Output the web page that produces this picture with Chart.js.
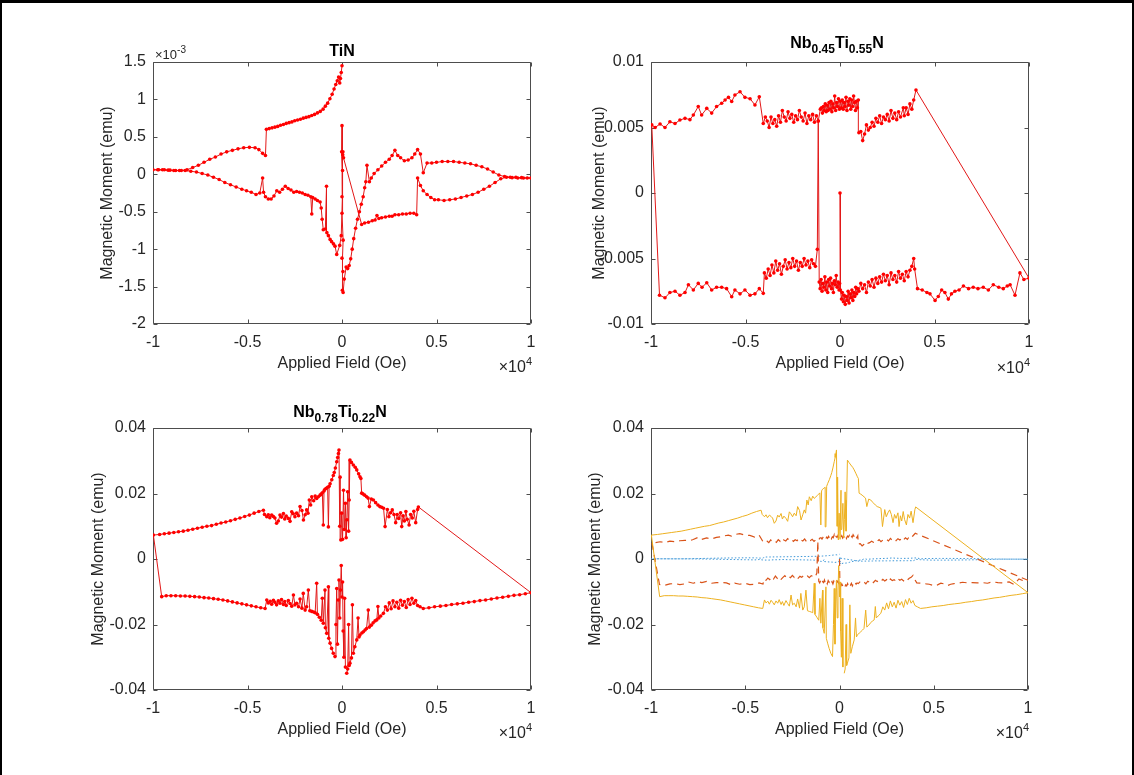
<!DOCTYPE html>
<html>
<head>
<meta charset="utf-8">
<script src="https://cdn.jsdelivr.net/npm/chart.js@4.4.0/dist/chart.umd.min.js"></script>
<style>
  body { margin: 0; background: #fff; }
  #page {
    position: relative; width: 1134px; height: 775px; overflow: hidden; background: #fff;
    font-family: "Liberation Sans", Arial, Helvetica, sans-serif; color: #262626;
  }
  #frame {
    position: absolute; left: 0; top: 0; width: 1134px; height: 775px; box-sizing: border-box;
    border-top: 3px solid #000; border-left: 2px solid #000; border-right: 2px solid #000;
  }
  canvas { position: absolute; }
  .ttl {
    position: absolute; transform: translateX(-50%); white-space: nowrap;
    font-weight: bold; font-size: 16px; line-height: 19px; color: #000;
  }
  .ttl .sb { font-size: 12px; position: relative; top: 5px; }
  .exp { position: absolute; font-size: 16px; line-height: 18px; color: #262626; white-space: nowrap; }
  .exp .sp { font-size: 11px; position: relative; top: -7px; }
  .exp.small { font-size: 13px; line-height: 15px; }
  .exp.small .sp { font-size: 10px; top: -6px; }
</style>
</head>
<body>
<div id="page">
  <div id="frame"></div>
  <canvas id="tin"></canvas>
  <canvas id="nb45"></canvas>
  <canvas id="nb78"></canvas>
  <canvas id="all"></canvas>

  <div class="ttl" style="left:342px;top:41px">TiN</div>
  <div class="ttl" style="left:837px;top:33px">Nb<span class="sb">0.45</span>Ti<span class="sb">0.55</span>N</div>
  <div class="ttl" style="left:340px;top:402px">Nb<span class="sb">0.78</span>Ti<span class="sb">0.22</span>N</div>

  <div class="exp small" style="left:155px;top:47px">×10<span class="sp">-3</span></div>
  <div class="exp" style="right:602px;top:358px">×10<span class="sp">4</span></div>
  <div class="exp" style="right:104px;top:359px">×10<span class="sp">4</span></div>
  <div class="exp" style="right:602px;top:724px">×10<span class="sp">4</span></div>
  <div class="exp" style="right:105px;top:724px">×10<span class="sp">4</span></div>
</div>

<script>
// fields in kOe (axis prints them in units of 10^4 Oe), moments in 10^-3 emu

const fieldTicks = [-10, -5, 0, 5, 10];
const tinTicks = [-2, -1.5, -1, -0.5, 0, 0.5, 1, 1.5];
const nb45Ticks = [-10, -5, 0, 5, 10];
const nb78Ticks = [-40, -20, 0, 20, 40];

// TiN sweep, in measurement order
const tinSweep = [
  [0.05, 0.30], [0.08, 0.22],
  // lower right branch
  [1.04, -0.67], [1.2, -0.65], [1.4, -0.64], [1.6, -0.62], [1.75, -0.61], [1.85, -0.55], [1.95, -0.59],
  [2.1, -0.58], [2.3, -0.57], [2.5, -0.56], [2.65, -0.56], [2.8, -0.54], [3.0, -0.54], [3.2, -0.53],
  [3.4, -0.53], [3.6, -0.52], [3.8, -0.52], [3.95, -0.54],
  [4.0, -0.05], [4.15, -0.15], [4.3, -0.22], [4.5, -0.27], [4.7, -0.31], [4.9, -0.34], [5.1, -0.34],
  [5.4, -0.35], [5.7, -0.34], [6.0, -0.33], [6.3, -0.31], [6.6, -0.29], [6.9, -0.27], [7.2, -0.24],
  [7.5, -0.2], [7.8, -0.16], [8.1, -0.11], [8.4, -0.06], [8.7, -0.04], [9.0, -0.045], [9.3, -0.05],
  [9.6, -0.05], [10.0, -0.05],
  // upper right branch
  [9.8, -0.05], [9.5, -0.045], [9.2, -0.04], [8.9, -0.04], [8.6, -0.03], [8.3, -0.01], [8.0, 0.03],
  [7.7, 0.07], [7.4, 0.1], [7.1, 0.12], [6.8, 0.14], [6.5, 0.15], [6.2, 0.16], [5.9, 0.17], [5.6, 0.17],
  [5.3, 0.17], [5.0, 0.16], [4.75, 0.15], [4.5, 0.15], [4.3, 0.02], [4.15, 0.27], [4.0, 0.33],
  [3.85, 0.27], [3.7, 0.22], [3.5, 0.19], [3.3, 0.18], [3.1, 0.22], [2.95, 0.25], [2.8, 0.32],
  [2.65, 0.25], [2.5, 0.2], [2.3, 0.16], [2.1, 0.11], [1.9, 0.06], [1.7, 0.01], [1.55, -0.05],
  [1.45, -0.1], [1.32, 0.12], [1.26, -0.1],
  // steep part down to the minimum
  [1.2, -0.18], [1.12, -0.3], [1.02, -0.4], [0.92, -0.5], [0.82, -0.6], [0.72, -0.72], [0.62, -0.86],
  [0.54, -1.0], [0.46, -1.13], [0.38, -1.22], [0.3, -1.26], [0.22, -1.24],
  // readings around zero field
  [0.12, -1.4], [0.06, -1.58], [0.02, -1.55], [0.05, -1.3], [0.0, -1.12], [0.06, -0.88], [0.0, -0.52],
  [0.03, 0.05], [-0.02, 0.3], [0.0, 0.65], [0.04, 0.26], [0.0, -0.3], [-0.04, -0.82], [-0.12, -0.95],
  // lower left branch
  [-0.28, -1.07], [-0.37, -0.96], [-0.45, -0.93], [-0.55, -0.9], [-0.63, -0.87], [-0.72, -0.82],
  [-0.8, -0.78], [-0.82, -0.16], [-0.88, -0.73], [-0.99, -0.74], [-1.05, -0.6], [-1.1, -0.45],
  [-1.16, -0.37], [-1.3, -0.35], [-1.42, -0.33], [-1.55, -0.31], [-1.6, -0.53], [-1.65, -0.3],
  [-1.8, -0.28], [-1.95, -0.27], [-2.1, -0.25], [-2.25, -0.24], [-2.4, -0.23], [-2.55, -0.24],
  [-2.7, -0.21], [-2.85, -0.19], [-3.0, -0.16], [-3.15, -0.2], [-3.3, -0.24], [-3.45, -0.22],
  [-3.6, -0.29], [-3.75, -0.33], [-3.9, -0.33], [-4.05, -0.3], [-4.15, -0.24], [-4.2, -0.05],
  [-4.35, -0.25], [-4.55, -0.27], [-4.8, -0.24], [-5.05, -0.22], [-5.3, -0.2], [-5.6, -0.17],
  [-5.9, -0.14], [-6.2, -0.11], [-6.5, -0.07], [-6.8, -0.04], [-7.1, -0.01], [-7.4, 0.01],
  [-7.7, 0.03], [-8.0, 0.04], [-8.3, 0.05], [-8.6, 0.05], [-8.9, 0.05], [-9.2, 0.055], [-9.5, 0.06],
  [-9.75, 0.06], [-10.0, 0.06],
  // upper left branch
  [-9.7, 0.06], [-9.4, 0.06], [-9.1, 0.055], [-8.8, 0.05], [-8.5, 0.05], [-8.2, 0.06], [-7.9, 0.09],
  [-7.6, 0.12], [-7.3, 0.16], [-7.0, 0.2], [-6.7, 0.23], [-6.4, 0.27], [-6.1, 0.3], [-5.8, 0.32],
  [-5.5, 0.34], [-5.2, 0.355], [-4.9, 0.36], [-4.6, 0.355], [-4.4, 0.33], [-4.2, 0.28], [-4.05, 0.25],
  [-4.0, 0.6], [-3.85, 0.61], [-3.7, 0.62], [-3.55, 0.63], [-3.4, 0.64], [-3.25, 0.655], [-3.1, 0.665],
  [-2.95, 0.68], [-2.8, 0.69], [-2.65, 0.7], [-2.5, 0.715], [-2.35, 0.725], [-2.2, 0.735], [-2.05, 0.75],
  [-1.9, 0.76], [-1.75, 0.77], [-1.6, 0.785], [-1.45, 0.8], [-1.3, 0.82], [-1.15, 0.84], [-1.0, 0.87],
  [-0.88, 0.91], [-0.76, 0.95], [-0.64, 1.01], [-0.52, 1.07], [-0.42, 1.14], [-0.33, 1.2],
  [-0.25, 1.25], [-0.18, 1.3], [-0.12, 1.22], [-0.08, 1.28], [-0.04, 1.36], [0.0, 1.45]
];

// Nb0.45Ti0.55N sweep
const nb45Sweep = [
  [0.0, 0.0],
  [0.02, -7.4], [0.08, -8.1], [0.12, -7.6], [0.18, -8.3], [0.22, -7.8], [0.28, -8.5], [0.33, -7.9],
  [0.38, -8.2], [0.43, -7.5], [0.48, -8.4], [0.53, -7.7], [0.58, -8.0], [0.63, -7.4], [0.68, -8.2],
  [0.73, -7.6], [0.78, -7.9], [0.83, -7.2], [0.88, -7.7], [0.93, -7.3],
  [1.0, -7.5], [1.1, -6.9], [1.2, -7.3], [1.3, -7.0], [1.4, -7.6], [1.5, -6.8], [1.6, -7.1], [1.7, -6.6],
  [1.8, -7.2], [1.9, -6.5], [2.0, -6.9], [2.1, -6.4], [2.2, -6.8], [2.3, -6.2], [2.4, -6.7], [2.5, -6.3],
  [2.6, -7.0], [2.7, -6.1], [2.8, -6.6], [2.9, -6.3], [3.0, -6.8], [3.1, -6.0], [3.2, -6.5], [3.3, -6.2],
  [3.4, -6.7], [3.5, -6.0], [3.6, -6.4], [3.7, -5.9], [3.8, -5.6], [3.9, -5.0], [3.95, -5.8],
  [4.1, -7.3], [4.35, -7.4], [4.6, -7.6], [4.76, -7.7], [5.03, -8.2], [5.2, -7.9], [5.38, -7.4],
  [5.55, -7.6], [5.73, -8.1], [5.9, -7.7], [6.08, -7.5], [6.3, -7.4], [6.53, -7.1], [6.8, -7.3],
  [7.05, -7.2], [7.3, -7.3], [7.58, -7.2], [7.85, -7.4], [8.11, -7.0], [8.4, -7.2], [8.64, -7.3],
  [8.85, -7.1], [9.0, -7.0], [9.26, -7.8], [9.52, -6.1], [9.73, -6.6], [10.0, -6.5],
  // back at 4 kOe on the upper branch
  [4.02, 7.86],
  [3.9, 7.1], [3.8, 6.4], [3.7, 6.8], [3.6, 6.0], [3.5, 6.5], [3.4, 5.9], [3.35, 6.5], [3.2, 5.8],
  [3.1, 6.2], [3.0, 5.6], [2.9, 6.1], [2.8, 5.7], [2.7, 6.3], [2.6, 5.5], [2.5, 6.0], [2.4, 5.6],
  [2.3, 5.8], [2.2, 5.3], [2.1, 5.9], [2.0, 5.4], [1.9, 5.7], [1.8, 5.1], [1.7, 5.4], [1.6, 5.0],
  [1.5, 4.8], [1.4, 5.2], [1.3, 4.5], [1.2, 4.0], [1.1, 4.7], [1.0, 4.6],
  [0.97, 7.1], [0.92, 6.5], [0.87, 7.0], [0.82, 6.3], [0.77, 6.9], [0.72, 7.4], [0.67, 6.6], [0.62, 7.1],
  [0.57, 6.4], [0.52, 7.2], [0.47, 6.7], [0.42, 7.0], [0.37, 6.3], [0.32, 7.3], [0.27, 6.6], [0.22, 6.9],
  [0.17, 6.4], [0.12, 7.1], [0.07, 6.5], [0.02, 7.0], [-0.03, 6.4], [-0.08, 7.2], [-0.13, 6.6],
  [-0.18, 6.9], [-0.23, 6.3], [-0.28, 7.4], [-0.33, 6.5], [-0.38, 6.8], [-0.43, 6.2], [-0.48, 7.0],
  [-0.53, 6.4], [-0.58, 6.9], [-0.63, 6.3], [-0.68, 6.7], [-0.73, 6.2], [-0.78, 6.8], [-0.83, 6.3],
  [-0.88, 6.6], [-0.93, 6.1], [-0.98, 6.5], [-1.04, 6.4],
  [-1.15, 5.5], [-1.25, 5.9], [-1.35, 5.4], [-1.45, 6.0], [-1.55, 5.6], [-1.65, 5.9], [-1.75, 5.3],
  [-1.85, 6.1], [-1.95, 5.5], [-2.05, 5.8], [-2.15, 6.3], [-2.25, 5.6], [-2.35, 5.9], [-2.45, 5.4],
  [-2.55, 6.0], [-2.65, 5.7], [-2.75, 6.2], [-2.85, 5.5], [-2.95, 5.8], [-3.05, 6.3], [-3.15, 5.4],
  [-3.25, 5.9], [-3.35, 5.1], [-3.45, 5.6], [-3.55, 5.3], [-3.65, 5.8], [-3.75, 5.0], [-3.85, 5.5],
  [-3.95, 5.8], [-4.06, 5.3],
  [-4.27, 7.35], [-4.5, 6.72], [-4.76, 7.2], [-5.03, 7.3], [-5.29, 7.73], [-5.56, 7.48], [-5.73, 6.98],
  [-5.9, 7.3], [-6.08, 7.1], [-6.26, 6.85], [-6.53, 6.6], [-6.79, 6.1], [-7.05, 6.46], [-7.32, 5.95],
  [-7.5, 6.6], [-7.76, 5.95], [-7.94, 5.6], [-8.2, 5.7], [-8.47, 5.57], [-8.73, 5.3], [-9.0, 5.44],
  [-9.26, 5.0], [-9.52, 5.27], [-9.78, 5.0], [-9.96, 5.2],
  // lower branch from the negative end
  [-9.55, -7.8], [-9.26, -8.0], [-9.0, -7.6], [-8.73, -7.5], [-8.47, -7.8], [-8.2, -7.6], [-8.02, -7.0],
  [-7.76, -7.4], [-7.5, -6.9], [-7.3, -7.2], [-7.05, -6.85], [-6.79, -7.4], [-6.53, -7.2], [-6.26, -7.2],
  [-6.0, -7.3], [-5.73, -7.92], [-5.56, -7.4], [-5.29, -7.7], [-5.03, -7.4], [-4.76, -7.8], [-4.5, -7.7],
  [-4.27, -7.3], [-4.06, -7.66],
  [-4.0, -6.1], [-3.9, -6.5], [-3.8, -5.8], [-3.7, -6.3], [-3.6, -5.5], [-3.5, -6.1], [-3.4, -5.2],
  [-3.3, -5.9], [-3.2, -5.4], [-3.1, -6.2], [-3.0, -5.6], [-2.9, -5.1], [-2.8, -5.8], [-2.7, -5.3],
  [-2.6, -5.7], [-2.5, -5.0], [-2.4, -5.6], [-2.3, -5.2], [-2.2, -5.9], [-2.1, -5.3], [-2.0, -5.6],
  [-1.9, -5.0], [-1.8, -5.5], [-1.7, -5.2], [-1.6, -5.7], [-1.5, -5.1], [-1.4, -5.4], [-1.3, -5.6],
  [-1.2, -4.3],
  [-1.15, 5.5], [-1.1, -6.8], [-1.05, -7.3], [-1.0, -6.6], [-0.95, -7.5], [-0.9, -6.9], [-0.85, -7.2],
  [-0.8, -6.4], [-0.75, -7.4], [-0.7, -6.8], [-0.65, -7.6], [-0.6, -6.6], [-0.55, -7.1], [-0.5, -6.5],
  [-0.45, -7.3], [-0.4, -6.9], [-0.35, -7.6], [-0.3, -6.7], [-0.25, -7.0], [-0.2, -6.3], [-0.15, -7.2],
  [-0.1, -6.8], [-0.05, -7.4], [-0.02, -6.9]
];

// Nb0.78Ti0.22N sweep
const nb78Sweep = [
  [0.25, -34.9], [0.3, -33.6], [0.35, -20.0], [0.38, -32.5], [0.42, -31.8], [0.5, -30.2], [0.55, -14.0],
  [0.6, -28.8], [0.68, -26.8], [0.78, -24.7], [0.85, -18.0], [0.9, -23.8], [0.95, -23.2], [1.05, -22.6],
  [1.13, -22.2], [1.22, -21.7], [1.3, -21.2], [1.39, -15.6], [1.45, -20.8], [1.55, -20.2], [1.65, -19.5],
  [1.75, -18.9], [1.84, -18.6], [1.9, -14.5], [1.95, -18.0], [2.05, -17.4], [2.19, -16.6], [2.3, -14.6],
  [2.4, -15.6], [2.5, -13.4], [2.6, -15.2], [2.7, -12.8], [2.8, -14.6], [2.9, -13.2], [3.0, -15.0],
  [3.1, -12.6], [3.2, -14.1], [3.3, -13.0], [3.4, -14.8], [3.5, -12.4], [3.6, -13.9], [3.7, -12.0],
  [3.8, -13.5], [3.9, -12.7], [4.0, -14.2], [4.13, -14.6],
  [4.3, -15.1], [4.6, -14.9], [4.9, -14.6], [5.2, -14.4], [5.5, -14.2], [5.8, -13.9], [6.1, -13.7],
  [6.4, -13.5], [6.7, -13.2], [7.0, -13.0], [7.3, -12.7], [7.6, -12.5], [7.9, -12.2], [8.2, -11.9],
  [8.5, -11.7], [8.8, -11.4], [9.1, -11.1], [9.4, -10.9], [9.7, -10.6], [10.0, -10.3],
  // back at 4 kOe on the upper branch
  [4.04, 15.9],
  [4.0, 15.1], [3.9, 11.1], [3.8, 14.6], [3.72, 12.5], [3.63, 13.6], [3.55, 10.4], [3.45, 12.1],
  [3.38, 14.5], [3.3, 11.6], [3.23, 13.2], [3.16, 9.9], [3.1, 14.1], [3.0, 12.4], [2.92, 13.6],
  [2.84, 11.1], [2.75, 13.6], [2.66, 15.0], [2.57, 14.1], [2.48, 12.9], [2.4, 15.1], [2.28, 9.9],
  [2.2, 15.5], [2.1, 15.8], [2.0, 16.0],
  [1.9, 16.5], [1.78, 17.2], [1.66, 18.0], [1.55, 18.3], [1.45, 16.0], [1.38, 18.6], [1.3, 19.0],
  [1.2, 19.5], [1.1, 19.9], [1.04, 20.1], [1.0, 24.6], [0.95, 25.1], [0.88, 26.0], [0.78, 27.2],
  [0.7, 28.0], [0.6, 28.7], [0.5, 29.5], [0.42, 30.2],
  [0.38, 18.0], [0.35, 8.5], [0.3, 20.5], [0.26, 12.0], [0.22, 6.5], [0.18, 17.0], [0.12, 9.0],
  [0.08, 21.0], [0.03, 6.0], [-0.02, 14.0], [-0.06, 5.8], [-0.1, 25.0], [-0.12, 10.0],
  [-0.16, 33.3], [-0.19, 32.2], [-0.23, 31.0], [-0.28, 29.7], [-0.35, 27.8], [-0.41, 26.4], [-0.46, 25.5],
  [-0.54, 24.2], [-0.63, 23.0], [-0.68, 22.2], [-0.72, 9.8], [-0.76, 21.9], [-0.83, 21.6], [-0.9, 21.3],
  [-0.95, 20.8], [-0.99, 10.4], [-1.04, 20.2], [-1.1, 19.8], [-1.16, 19.5], [-1.25, 19.0], [-1.34, 18.5],
  [-1.42, 19.2], [-1.5, 17.8], [-1.6, 19.0], [-1.66, 16.5], [-1.73, 18.0], [-1.8, 14.0], [-1.87, 15.0],
  [-1.95, 13.5], [-2.04, 11.9], [-2.12, 14.8], [-2.22, 16.0], [-2.3, 13.2], [-2.4, 14.0], [-2.49, 12.9],
  [-2.58, 13.8], [-2.66, 14.4], [-2.75, 11.5], [-2.84, 12.4], [-2.95, 13.1], [-3.03, 12.2], [-3.1, 13.9],
  [-3.2, 12.8], [-3.28, 13.4], [-3.37, 11.6], [-3.46, 10.9], [-3.55, 12.5], [-3.63, 13.0], [-3.72, 13.4],
  [-3.82, 12.6], [-3.9, 13.5], [-3.98, 12.9], [-4.1, 13.6],
  [-4.16, 14.9], [-4.4, 14.5], [-4.65, 14.0], [-4.9, 13.4], [-5.15, 13.0], [-5.4, 12.5], [-5.65, 12.1],
  [-5.9, 11.7], [-6.15, 11.3], [-6.4, 11.0], [-6.65, 10.6], [-6.9, 10.2], [-7.15, 10.0], [-7.4, 9.7],
  [-7.65, 9.4], [-7.9, 9.1], [-8.15, 8.8], [-8.4, 8.5], [-8.65, 8.3], [-8.9, 8.1], [-9.15, 7.9],
  [-9.4, 7.7], [-9.65, 7.5], [-9.98, 7.3],
  // lower branch from the negative end
  [-9.54, -11.5], [-9.3, -11.2], [-9.05, -11.2], [-8.8, -11.2], [-8.55, -11.3], [-8.3, -11.3],
  [-8.05, -11.4], [-7.8, -11.5], [-7.55, -11.6], [-7.3, -11.8], [-7.05, -11.9], [-6.8, -12.1],
  [-6.55, -12.3], [-6.3, -12.5], [-6.05, -12.8], [-5.8, -13.1], [-5.55, -13.4], [-5.3, -13.7],
  [-5.05, -14.0], [-4.8, -14.3], [-4.55, -14.6], [-4.3, -14.9], [-4.07, -15.1],
  [-3.98, -12.5], [-3.9, -13.4], [-3.8, -12.9], [-3.72, -13.8], [-3.63, -12.6], [-3.55, -13.2],
  [-3.46, -14.0], [-3.37, -12.8], [-3.28, -13.5], [-3.2, -12.4], [-3.1, -13.9], [-3.03, -13.0],
  [-2.95, -14.2], [-2.84, -12.7], [-2.75, -13.6], [-2.66, -14.4], [-2.57, -11.0], [-2.49, -14.0],
  [-2.4, -13.5], [-2.3, -14.6], [-2.22, -12.2], [-2.12, -15.0], [-2.05, -10.5], [-1.95, -15.6],
  [-1.87, -14.6], [-1.78, -9.5], [-1.7, -15.8], [-1.6, -16.0], [-1.5, -16.2], [-1.42, -16.4],
  [-1.34, -7.4], [-1.3, -16.9], [-1.2, -17.8], [-1.1, -18.7], [-1.04, -12.0], [-0.99, -19.6],
  [-0.9, -9.5], [-0.88, -21.0], [-0.81, -22.7], [-0.72, -8.5], [-0.7, -24.2], [-0.63, -25.7],
  [-0.55, -27.3], [-0.46, -28.8], [-0.37, -29.8],
  [-0.32, -20.0], [-0.28, -9.0], [-0.24, -26.0], [-0.2, -12.5], [-0.16, -6.4], [-0.12, -18.0],
  [-0.08, -9.5], [-0.04, -2.0], [0.0, -11.6], [0.03, -7.0], [0.06, -22.0], [0.1, -30.0], [0.14, -12.0],
  [0.18, -33.0]
];

const FONT = '"Liberation Sans", Arial, Helvetica, sans-serif';
const TEXT = '#262626';
Chart.defaults.font.family = FONT;
Chart.defaults.color = TEXT;

const toXY = pts => pts.map(([x, y]) => ({ x: x, y: y }));
const num = v => String(parseFloat(v.toPrecision(6)));

// MATLAB style box with inward ticks on all four sides
const matlabBox = {
  id: 'matlabBox',
  beforeDatasetsDraw(chart) {
    const { ctx, chartArea: a, scales } = chart;
    const L = Math.round(a.left) + 0.5, R = Math.round(a.right) - 0.5;
    const T = Math.round(a.top) + 0.5, B = Math.round(a.bottom) - 0.5;
    const tl = 4;
    ctx.save();
    ctx.strokeStyle = '#4d4d4d';
    ctx.lineWidth = 1;
    ctx.beginPath();
    ctx.rect(L, T, R - L, B - T);
    scales.x.ticks.forEach(t => {
      const px = Math.round(scales.x.getPixelForValue(t.value)) + 0.5;
      ctx.moveTo(px, B); ctx.lineTo(px, B - tl);
      ctx.moveTo(px, T); ctx.lineTo(px, T + tl);
    });
    scales.y.ticks.forEach(t => {
      const py = Math.round(scales.y.getPixelForValue(t.value)) + 0.5;
      ctx.moveTo(L, py); ctx.lineTo(L + tl, py);
      ctx.moveTo(R, py); ctx.lineTo(R - tl, py);
    });
    ctx.stroke();
    ctx.restore();
  }
};

function makePanel(id, area, yWidth, yTicks, yFmt, datasets) {
  const cv = document.getElementById(id);
  const w = area.right - area.left + 125;
  const h = area.bottom - area.top + 100;
  cv.width = w; cv.height = h;
  cv.style.width = w + 'px'; cv.style.height = h + 'px';
  cv.style.left = (area.left - 95) + 'px';
  cv.style.top = (area.top - 40) + 'px';

  return new Chart(cv, {
    type: 'scatter',
    data: { datasets: datasets },
    options: {
      responsive: false,
      animation: false,
      events: [],
      layout: { padding: { left: 95 - yWidth, top: 40, right: 30, bottom: 11 } },
      plugins: { legend: { display: false }, tooltip: { enabled: false } },
      scales: {
        x: {
          type: 'linear',
          min: fieldTicks[0], max: fieldTicks[fieldTicks.length - 1],
          afterBuildTicks: s => { s.ticks = fieldTicks.map(v => ({ value: v })); },
          ticks: { padding: 9, color: TEXT, font: { size: 16 }, maxRotation: 0, autoSkip: false,
                   callback: v => num(v / 10) },
          grid: { display: false, drawTicks: false, tickLength: 0 },
          border: { display: false },
          title: { display: true, text: 'Applied Field (Oe)', color: TEXT, font: { size: 16 },
                   padding: { top: 0, bottom: 0 } },
          afterFit: s => { s.height = 49; }
        },
        y: {
          type: 'linear',
          min: yTicks[0], max: yTicks[yTicks.length - 1],
          afterBuildTicks: s => { s.ticks = yTicks.map(v => ({ value: v })); },
          ticks: { padding: 7, color: TEXT, font: { size: 16 }, autoSkip: false, callback: yFmt },
          grid: { display: false, drawTicks: false, tickLength: 0 },
          border: { display: false },
          title: { display: true, text: 'Magnetic Moment (emu)', color: TEXT, font: { size: 16 },
                   padding: { top: 1, bottom: 0 } },
          afterFit: s => { s.width = yWidth; }
        }
      }
    },
    plugins: [matlabBox]
  });
}

const redLoop = pts => ({
  data: toXY(pts),
  showLine: true,
  borderColor: 'rgb(226,24,24)',
  borderWidth: 1,
  pointRadius: 1.8,
  pointBackgroundColor: '#ff0000',
  pointBorderWidth: 0,
  pointHoverRadius: 0
});

makePanel('tin', { left: 153, right: 531, top: 62, bottom: 324 }, 56, tinTicks,
  v => num(v), [redLoop(tinSweep)]);

makePanel('nb45', { left: 651, right: 1029, top: 62, bottom: 324 }, 62, nb45Ticks,
  v => num(v / 1000), [redLoop(nb45Sweep)]);

makePanel('nb78', { left: 153, right: 531, top: 428, bottom: 690 }, 65, nb78Ticks,
  v => num(v / 1000), [redLoop(nb78Sweep)]);

makePanel('all', { left: 651, right: 1028, top: 428, bottom: 690 }, 66, nb78Ticks,
  v => num(v / 1000), [
    { data: toXY(nb78Sweep), showLine: true, borderColor: '#EDB120', borderWidth: 1,
      pointRadius: 0, order: 0 },
    { data: toXY(nb45Sweep), showLine: true, borderColor: '#D95319', borderWidth: 1.2,
      borderDash: [7, 5], pointRadius: 0, order: 1 },
    { data: toXY(tinSweep), showLine: true, borderColor: 'rgb(60,150,215)', borderWidth: 1,
      borderDash: [1.5, 2], pointRadius: 0, order: 2 }
  ]);
</script>
</body>
</html>
